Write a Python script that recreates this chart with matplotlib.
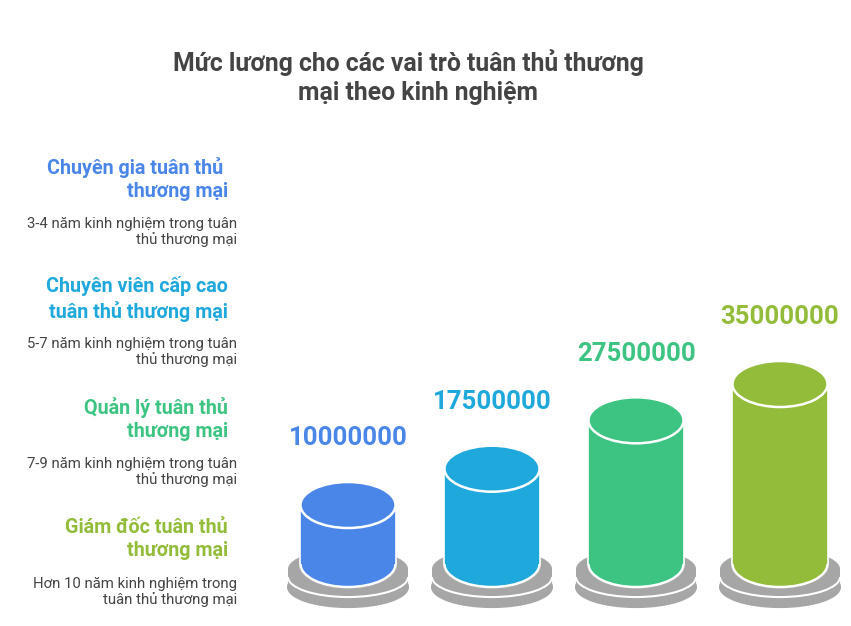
import numpy as np
import matplotlib
matplotlib.use('Agg')
import matplotlib.pyplot as plt
from matplotlib.patches import Ellipse, Rectangle

FONT = ['Roboto', 'DejaVu Sans']

roles = ["Chuyên gia tuân thủ \nthương mại",
         "Chuyên viên cấp cao\ntuân thủ thương mại",
         "Quản lý tuân thủ\nthương mại",
         "Giám đốc tuân thủ\nthương mại"]
notes = ["3-4 năm kinh nghiệm trong tuân\nthủ thương mại",
         "5-7 năm kinh nghiệm trong tuân\nthủ thương mại",
         "7-9 năm kinh nghiệm trong tuân\nthủ thương mại",
         "Hơn 10 năm kinh nghiệm trong\ntuân thủ thương mại"]
salaries = [10000000, 17500000, 27500000, 35000000]
colors = ["#4A86E8", "#1FA8DB", "#3DC482", "#93BC3A"]
gray = "#A6A6A6"
title_lines = ["Mức lương cho các vai trò tuân thủ thương", "mại theo kinh nghiệm"]

W, H = 851, 626
fig = plt.figure(figsize=(W / 100, H / 100), dpi=100)
fig.patch.set_facecolor("white")

# cylinder axes: x in category index, y in salary units
ax = fig.add_axes([276 / W, 0, 576 / W, 326 / H])
ax.set_xlim(-0.5, 3.5)
ax.set_ylim(-15.0e6, 52.36e6)
ax.axis("off")

upp = 1 / 4.84e-6  # data units per pixel (vertical)
base = -2.2e6
rx, ry = 0.33, 23 * upp
drx, dry, dth = 0.4167, 20 * upp, 8 * upp


def disc(x, top, white_bottom=False):
    bot = top - dth
    ax.add_patch(Ellipse((x, bot), 2 * drx, 2 * dry, fc=gray,
                         ec="white" if white_bottom else gray, lw=1.5))
    ax.add_patch(Rectangle((x - drx, bot), 2 * drx, dth, fc=gray, ec="none"))
    ax.add_patch(Ellipse((x, top), 2 * drx, 2 * dry, fc=gray, ec="none"))


for i, (v, c) in enumerate(zip(salaries, colors)):
    # two stacked grey plates
    disc(i, base - 15 * upp)
    disc(i, base - 5 * upp, white_bottom=True)
    # cylinder
    ax.add_patch(Ellipse((i, base), 2 * rx, 2 * ry, fc=c, ec="white", lw=1.8))
    ax.add_patch(Rectangle((i - rx, base), 2 * rx, v - base, fc=c, ec="none"))
    ax.plot([i - rx, i - rx], [base, v], color="white", lw=1.2, solid_capstyle="butt")
    ax.plot([i + rx, i + rx], [base, v], color="white", lw=1.2, solid_capstyle="butt")
    ax.add_patch(Ellipse((i, v), 2 * rx, 2 * ry, fc=c, ec="white", lw=1.8))
    ax.annotate(f"{v}", (i, v), xytext=(0, 48), textcoords="offset points",
                ha="center", va="center", fontsize=18.5, fontweight="bold",
                color=c, family=FONT)

for (tx, ty), line in zip([(408, 63), (418, 93)], title_lines):
    fig.text(tx / W, 1 - ty / H, line, ha="center", va="center",
             fontsize=17.8, fontweight="bold", color="#444444", family=FONT)

for k, (r, n, c) in enumerate(zip(roles, notes, colors)):
    y0 = 179 + 120 * k
    fig.text(228 / W, 1 - y0 / H, r, ha="right", va="center", fontsize=14.2,
             fontweight="bold", color=c, family=FONT, linespacing=1.29,
             multialignment="right")
    fig.text(237 / W, 1 - (y0 + 53) / H, n, ha="right", va="center",
             fontsize=10.75, color="#444444", family=FONT, linespacing=1.12,
             multialignment="right")

fig.savefig("out.png", dpi=100, facecolor="white")
